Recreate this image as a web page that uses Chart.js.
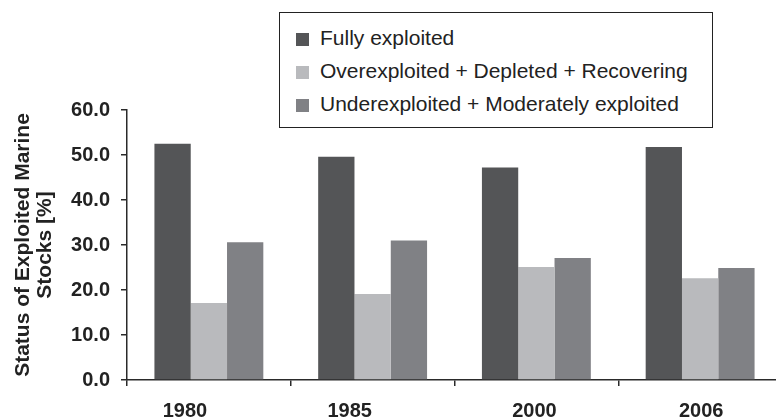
<!DOCTYPE html>
<html>
<head>
<meta charset="utf-8">
<script src="https://cdn.jsdelivr.net/npm/chart.js@4"></script>
<style>
  html, body { margin: 0; padding: 0; background: #fff; overflow: hidden; }
  #wrap { position: relative; width: 782px; height: 420px; }
  #legend {
    position: absolute; left: 279px; top: 12px; width: 432px; height: 114px;
    border: 1.5px solid #222; background: #fff;
    font-family: "Liberation Sans", Arial, sans-serif; font-size: 21px; color: #222;
  }
  #legend .row { position: absolute; left: 16px; height: 24px; line-height: 24px; white-space: nowrap; }
  #legend .box { display: inline-block; width: 13px; height: 13px; margin-right: 11px; vertical-align: -1px; }
</style>
</head>
<body>
<div id="wrap">
  <canvas id="stocksChart" width="782" height="420"></canvas>
  <div id="legend"></div>
</div>
<script>
// data
var years = ["1980", "1985", "2000", "2006"];
var fullyExploited = [52.5, 49.6, 47.2, 51.8];
var overDepletedRecovering = [17.1, 19.1, 25.1, 22.6];
var underModerate = [30.6, 31.0, 27.1, 24.9];
var yTicks = [0, 10, 20, 30, 40, 50, 60];

var seriesNames = [
  "Fully exploited",
  "Overexploited + Depleted + Recovering",
  "Underexploited + Moderately exploited"
];
var seriesColors = ["#545557", "#b9babd", "#808185"];
// the year labels sit a little off centre in the original
var labelShift = [-24, -23, -2, 1];

var axisColor = "#2a2a2a";
var textColor = "#222";

// legend box, drawn as html on top of the canvas
var legendEl = document.getElementById("legend");
seriesNames.forEach(function (name, i) {
  var row = document.createElement("div");
  row.className = "row";
  row.style.top = (13 + i * 33) + "px";
  row.innerHTML = '<span class="box" style="background:' + seriesColors[i] + '"></span>' + name;
  legendEl.appendChild(row);
});

var yearLabels = {
  id: "yearLabels",
  afterDraw: function (chart) {
    var x = chart.scales.x;
    var ctx = chart.ctx;
    ctx.save();
    ctx.font = 'bold 20px "Liberation Sans"';
    ctx.fillStyle = textColor;
    ctx.textAlign = "center";
    ctx.textBaseline = "middle";
    years.forEach(function (y, i) {
      ctx.fillText(y, x.getPixelForValue(i) + labelShift[i], x.top + 31);
    });
    ctx.restore();
  }
};

var ctx = document.getElementById("stocksChart").getContext("2d");
new Chart(ctx, {
  type: "bar",
  data: {
    labels: years,
    datasets: [
      { label: seriesNames[0], data: fullyExploited, backgroundColor: seriesColors[0] },
      { label: seriesNames[1], data: overDepletedRecovering, backgroundColor: seriesColors[1] },
      { label: seriesNames[2], data: underModerate, backgroundColor: seriesColors[2] }
    ]
  },
  options: {
    responsive: false,
    animation: false,
    events: [],
    layout: { padding: { top: 110, left: 0, right: 0, bottom: 0 } },
    datasets: {
      bar: { categoryPercentage: 0.665, barPercentage: 1.0, borderWidth: 0 }
    },
    plugins: {
      legend: { display: false },
      tooltip: { enabled: false }
    },
    scales: {
      x: {
        offset: true,
        grid: {
          offset: true,
          drawOnChartArea: false,
          drawTicks: true,
          tickLength: 6,
          color: axisColor,
          lineWidth: 1.5
        },
        border: { color: axisColor, width: 1.5 },
        ticks: { display: false },
        afterFit: function (s) { s.height = 40; }
      },
      y: {
        min: 0,
        max: 60,
        afterBuildTicks: function (s) {
          s.ticks = yTicks.map(function (v) { return { value: v }; });
        },
        grid: {
          drawOnChartArea: false,
          drawTicks: true,
          tickLength: 6,
          color: axisColor,
          lineWidth: 1.5
        },
        border: { color: axisColor, width: 1.5 },
        ticks: {
          padding: 11,
          color: textColor,
          font: { family: "Liberation Sans", size: 20, weight: "bold" },
          callback: function (v) { return Number(v).toFixed(1); }
        },
        title: {
          display: true,
          text: ["Status of Exploited Marine", "Stocks [%]"],
          color: textColor,
          padding: { top: 12, bottom: 0 },
          font: { family: "Liberation Sans", size: 21, weight: "bold", lineHeight: 1.05 }
        },
        afterFit: function (s) { s.width = 127; }
      }
    }
  },
  plugins: [yearLabels]
});
</script>
</body>
</html>
